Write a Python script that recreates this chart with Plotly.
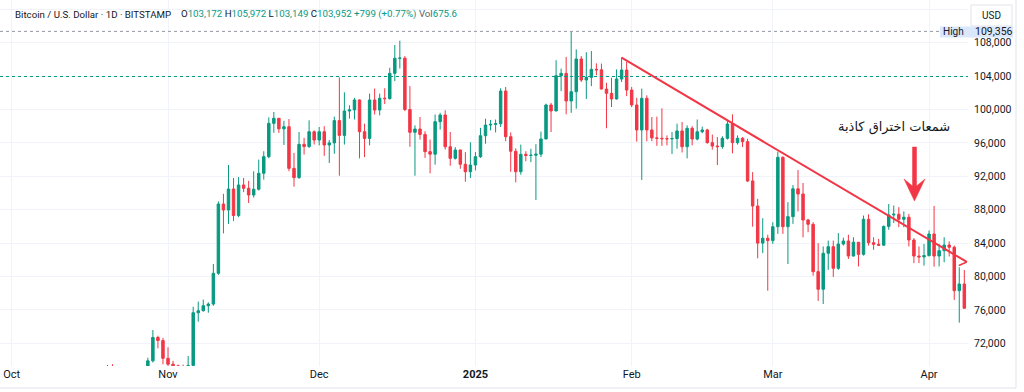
import plotly.graph_objects as go
import pandas as pd

# ---------------- data (BTC/USD daily, Bitstamp) ----------------
start_date = "2024-10-14"

opens = [
    # Oct 14-31
    62850, 66050, 67050, 67600, 67400, 68400, 68350, 69000, 67370, 67380, 66650, 68180, 66620, 67020, 67960, 69900, 72700, 72330,
    # Nov
    70200, 69500, 69300, 68750, 67800, 69350, 75660, 75900, 76500, 76700, 80380, 88680, 87960, 90480, 87300, 90960, 90560, 89760, 90450, 92360,
    94350, 98340, 98950, 97680, 97940, 92950, 91840, 95830, 95560, 97340,
    # Dec
    96340, 97340, 95750, 96000, 98670, 96900, 99820, 99950, 101140, 97340, 96540, 101140, 99940, 101340, 101300, 104330, 106130, 106150, 100000, 97270,
    97660, 97020, 94950, 94650, 98540, 99340, 95540, 94150, 95150, 93440, 92550,
    # Jan
    93350, 94350, 96860, 98140, 98220, 98300, 102210, 96740, 95000, 92550, 94630, 94500, 94520, 94650, 96470, 100540, 99820, 104050, 104330, 101020,
    102130, 106050, 103530, 103850, 104810, 104750, 102450, 101940, 101260, 103650, 104730,
    # Feb
    102330, 100540, 97550, 101340, 97550, 96600, 96550, 96500, 96480, 96520, 97430, 95540, 97750, 96460, 97340, 97550, 96030, 95630, 95550, 96550,
    98260, 96030, 96550, 96150, 91440, 88440, 84000, 84580,
    # Mar
    84300, 85960, 94270, 85960, 87170, 90500, 89880, 86770, 86250, 80580, 78470, 82780, 83570, 80980, 83890, 84250, 82450, 84100, 82650, 86850,
    84050, 83850, 83750, 86000, 87370, 87450, 86850, 87100, 84370, 82450, 82350,
    # Apr 1-8
    82500, 85090, 82450, 83090, 83770, 83500, 78300, 79100,
]

highs = [
    66500, 67900, 68400, 67950, 68950, 68700, 69400, 69500, 67800, 67450, 68850, 68750, 67450, 68300, 70270, 73590, 72900, 72650,
    71520, 69900, 69450, 69450, 70480, 76380, 76990, 77240, 76900, 81500, 89000, 89900, 93350, 91800, 91900, 91800, 91450, 92600, 94000, 95000,
    99060, 99700, 98950, 98650, 98860, 94800, 97300, 96600, 98700, 97500,
    97900, 98000, 96350, 99150, 103850, 102060, 100500, 101400, 101200, 98300, 101900, 102500, 101900, 102540, 105000, 107720, 108240, 106400, 102800, 98100,
    99100, 97400, 96400, 99400, 99600, 99900, 97300, 95500, 95200, 94900, 96070,
    94900, 97800, 98900, 98750, 98800, 102540, 102700, 97250, 95350, 95800, 95000, 95300, 95850, 97350, 100700, 100800, 105900, 104900, 106300, 109356,
    107200, 106400, 106860, 107000, 105530, 105500, 103200, 103800, 104800, 106250, 105700,
    102700, 101400, 102500, 101700, 99100, 99140, 100140, 96900, 97300, 98300, 98500, 98100, 98000, 98800, 97950, 97700, 97000, 96700, 96800, 98660,
    99420, 96900, 96700, 96500, 92500, 89300, 86980, 85000,
    86500, 94950, 94400, 88900, 90950, 92750, 91200, 86900, 86500, 84000, 83600, 84300, 84300, 85200, 84650, 85000, 84700, 84100, 87300, 87450,
    84700, 84500, 86100, 88680, 88500, 88300, 87800, 87500, 84600, 83600, 83900,
    85500, 88440, 83900, 84700, 84200, 83700, 81100, 80780,
]

lows = [
    62450, 64800, 66750, 66700, 67200, 68000, 68100, 66800, 66600, 65200, 66500, 65800, 66450, 66850, 67600, 69700, 71400, 69480,
    68800, 68800, 67500, 66800, 67450, 69300, 74590, 75800, 75660, 76500, 80200, 85170, 86300, 86650, 87100, 90100, 88800, 89450, 90300, 91600,
    94150, 97220, 97200, 95750, 92600, 90760, 91700, 94600, 95400, 95800,
    95700, 94450, 93600, 94700, 92070, 95800, 98900, 98800, 94150, 94300, 95700, 99400, 99300, 100650, 101200, 103400, 104900, 99800, 95540, 92070,
    96400, 94200, 92360, 93400, 97600, 95200, 93270, 94000, 92900, 91350, 91800,
    92700, 94200, 95900, 97500, 97250, 97900, 96200, 92550, 91280, 92200, 93800, 93700, 89160, 94300, 96450, 97300, 99800, 102200, 99420, 99600,
    100100, 103300, 101260, 102800, 104100, 102400, 97750, 100300, 101200, 103300, 101600,
    100300, 96150, 91560, 96200, 96200, 95650, 95650, 95700, 94670, 95300, 94850, 94150, 95700, 96300, 97150, 95900, 95200, 93350, 95300, 96400,
    94750, 95800, 95500, 91300, 85960, 82180, 82800, 78300,
    83900, 85100, 85100, 81500, 86300, 87800, 84690, 85300, 80100, 77070, 76710, 80800, 79950, 80800, 83700, 82100, 82400, 81200, 82500, 83700,
    83200, 83650, 83700, 85600, 86400, 85900, 85900, 83600, 81600, 81600, 81300,
    82400, 81180, 81200, 81700, 82400, 77200, 74470, 76150,
]

closes = [
    66050, 67050, 67600, 67400, 68400, 68350, 69000, 67370, 67380, 66650, 68180, 66620, 67020, 67960, 69900, 72700, 72330, 70200,
    69500, 69300, 68750, 67800, 69350, 75660, 75900, 76500, 76700, 80380, 88680, 87960, 90480, 87300, 90960, 90560, 89760, 90450, 92360, 94350,
    98340, 98950, 97680, 97940, 92950, 91840, 95830, 95560, 97340, 96340,
    97340, 95750, 96000, 98670, 96900, 99820, 99950, 101140, 97340, 96540, 101140, 99940, 101340, 101300, 104330, 106130, 106150, 100000, 97270, 97660,
    97020, 94950, 94650, 98540, 99340, 95540, 94150, 95150, 93440, 92550, 93350,
    94350, 96860, 98140, 98220, 98300, 102210, 96740, 95000, 92550, 94630, 94500, 94520, 94650, 96470, 100540, 99820, 104050, 104330, 101020, 102130,
    106050, 103530, 103850, 104810, 104750, 102450, 101940, 101260, 103650, 104730, 102330,
    100540, 97550, 101340, 97550, 96600, 96550, 96500, 96480, 96520, 97430, 95540, 97750, 96460, 97340, 97550, 96030, 95630, 95550, 96550, 98260,
    96030, 96550, 96150, 91440, 88440, 84000, 84580, 84300,
    85960, 94270, 85960, 87170, 90500, 89880, 86770, 86250, 80580, 78470, 82780, 83570, 80980, 83890, 84250, 82450, 84100, 82650, 86850, 84050,
    83850, 83750, 86000, 87370, 87450, 86850, 87100, 84370, 82450, 82350, 82500,
    85090, 82450, 83090, 83770, 83500, 78300, 79100, 76200,
]

# axis ticks
x_tick_dates = ["2024-10-01", "2024-11-01", "2024-12-01", "2025-01-01", "2025-02-01", "2025-03-01", "2025-04-01"]
x_tick_labels = ["Oct", "Nov", "Dec", "<b>2025</b>", "Feb", "Mar", "Apr"]
y_tick_values = [72000, 76000, 80000, 84000, 88000, 92000, 96000, 100000, 104000, 108000, 112000]
y_tick_labels = ["72,000", "76,000", "80,000", "84,000", "88,000", "92,000", "96,000", "100,000", "104,000", "108,000", ""]

# reference levels
all_time_high = 109356
last_close_line = 103952

# trendline (drawn by the analyst)
trend_dates = ["2025-01-30 00:00", "2025-04-08 12:00"]
trend_values = [106200, 81740]
trend_tail_dates = ["2025-04-08 12:00", "2025-04-06 22:00"]
trend_tail_values = [81740, 81320]

# header legend
symbol_title = "Bitcoin / U.S. Dollar · 1D · BITSTAMP"
header_values = dict(o="103,172", h="105,972", l="103,149", c="103,952", chg="+799 (+0.77%)", vol="675.6")
annotation_text = "شمعات اختراق كاذبة"

# ---------------- style ----------------
GREEN = "#089981"
RED = "#f23645"
TEXT = "#131722"
GRID = "#f0f3fa"
FONT = "Roboto, 'Liberation Sans', sans-serif"

W, H = 1024, 392
ML, MR, MT, MB = 0, 56, 0, 26
PW, PH = W - ML - MR, H - MT - MB


def px(X):
    return (X - ML) / PW


def py(Y):
    return 1 - (Y - MT) / PH


dates = pd.date_range(start_date, periods=len(closes), freq="D")
assert len(opens) == len(highs) == len(lows) == len(closes)

fig = go.Figure()
fig.add_trace(go.Candlestick(
    x=dates, open=opens, high=highs, low=lows, close=closes,
    increasing=dict(line=dict(color=GREEN, width=1), fillcolor=GREEN),
    decreasing=dict(line=dict(color=RED, width=1), fillcolor=RED),
    whiskerwidth=0, hoverinfo="skip", showlegend=False,
))

shapes = []
# dotted reference lines
shapes.append(dict(type="line", xref="paper", yref="y", x0=0, x1=px(940), y0=all_time_high, y1=all_time_high,
                   line=dict(color="#9598a1", width=1, dash="dot")))
shapes.append(dict(type="line", xref="paper", yref="y", x0=0, x1=1, y0=last_close_line, y1=last_close_line,
                   line=dict(color=GREEN, width=1, dash="dot")))
# trendline
shapes.append(dict(type="line", xref="x", yref="y", x0=trend_dates[0], x1=trend_dates[1],
                   y0=trend_values[0], y1=trend_values[1], line=dict(color=RED, width=2)))
shapes.append(dict(type="line", xref="x", yref="y", x0=trend_tail_dates[0], x1=trend_tail_dates[1],
                   y0=trend_tail_values[0], y1=trend_tail_values[1], line=dict(color=RED, width=1.5)))
# down arrow
arrow_pts = [(912.5, 147), (916.5, 147), (916.5, 186), (925, 179), (914.5, 201), (904, 179), (912.5, 186)]
path = "M " + " L ".join(f"{px(x):.5f},{py(y):.5f}" for x, y in arrow_pts) + " Z"
shapes.append(dict(type="path", xref="paper", yref="paper", path=path, fillcolor=RED, line=dict(color=RED, width=0.5)))
# frame lines of the widget
shapes.append(dict(type="line", xref="paper", yref="paper", x0=px(1016), x1=px(1016), y0=py(0), y1=py(388),
                   line=dict(color="#e0e3eb", width=1)))
shapes.append(dict(type="line", xref="paper", yref="paper", x0=px(0), x1=px(1016), y0=py(388), y1=py(388),
                   line=dict(color="#e0e3eb", width=1)))
# USD box
shapes.append(dict(type="rect", xref="paper", yref="paper", x0=px(971), x1=px(1012), y0=py(5), y1=py(26),
                   line=dict(color="#e0e3eb", width=1), fillcolor="white"))
# High tag and price tag
shapes.append(dict(type="rect", xref="paper", yref="paper", x0=px(940), x1=px(967), y0=py(26.5), y1=py(37.5),
                   line=dict(width=0), fillcolor="#dbe7fb"))
shapes.append(dict(type="rect", xref="paper", yref="paper", x0=px(967), x1=px(1013), y0=py(26.5), y1=py(37.5),
                   line=dict(width=0), fillcolor="#dbe7fb"))

annotations = []
hv = header_values
values_text = (
    f"<span style='color:{TEXT}'>O</span><span style='color:{GREEN}'>{hv['o']}</span>"
    f" <span style='color:{TEXT}'>H</span><span style='color:{GREEN}'>{hv['h']}</span>"
    f" <span style='color:{TEXT}'>L</span><span style='color:{GREEN}'>{hv['l']}</span>"
    f" <span style='color:{TEXT}'>C</span><span style='color:{GREEN}'>{hv['c']}</span>"
    f" <span style='color:{GREEN}'>{hv['chg']}</span>"
    f" <span style='color:#5d606b'>Vol</span><span style='color:{GREEN}'>{hv['vol']}</span>"
)
annotations.append(dict(xref="paper", yref="paper", x=px(13), y=py(14), xanchor="left", yanchor="middle",
                        text=symbol_title, showarrow=False, font=dict(size=9.7, color=TEXT, family=FONT)))
annotations.append(dict(xref="paper", yref="paper", x=px(179), y=py(14), xanchor="left", yanchor="middle",
                        text=values_text, showarrow=False, font=dict(size=9.7, family=FONT)))
annotations.append(dict(xref="paper", yref="paper", x=px(991.5), y=py(15.5), xanchor="center", yanchor="middle",
                        text="USD", showarrow=False, font=dict(size=10, color=TEXT, family=FONT)))
annotations.append(dict(xref="paper", yref="y", x=px(953.5), y=all_time_high, xanchor="center", yanchor="middle",
                        text="High", showarrow=False, font=dict(size=10, color=TEXT, family=FONT)))
annotations.append(dict(xref="paper", yref="y", x=px(973), y=all_time_high, xanchor="left", yanchor="middle",
                        text=f"{all_time_high:,}", showarrow=False, font=dict(size=10.5, color=TEXT, family=FONT)))
annotations.append(dict(xref="paper", yref="paper", x=px(894), y=py(127), xanchor="center", yanchor="middle",
                        text=annotation_text, showarrow=False,
                        font=dict(size=13, color=TEXT, family="'DejaVu Sans', sans-serif")))

fig.update_layout(
    width=W, height=H, autosize=False,
    margin=dict(l=ML, r=MR, t=MT, b=MB, pad=0),
    paper_bgcolor="white", plot_bgcolor="white",
    font=dict(family=FONT, size=11, color=TEXT),
    shapes=shapes, annotations=annotations,
    showlegend=False, hovermode=False,
    xaxis=dict(
        type="date", range=["2024-09-28 16:00", "2025-04-08 17:30"],
        rangeslider=dict(visible=False),
        tickmode="array", tickvals=x_tick_dates, ticktext=x_tick_labels,
        showgrid=True, gridcolor=GRID, gridwidth=1, zeroline=False, showline=False, ticks="",
        tickfont=dict(size=11, color=TEXT, family=FONT),
    ),
    yaxis=dict(
        side="right", range=[69281, 113114],
        tickmode="array", tickvals=y_tick_values, ticktext=y_tick_labels,
        showgrid=True, gridcolor=GRID, gridwidth=1, zeroline=False, showline=False, ticks="",
        ticklabelstandoff=5,
        tickfont=dict(size=10.5, color=TEXT, family=FONT),
    ),
)

fig.write_html("out.html", config={"displayModeBar": False},
               post_script="document.body.style.margin='0';")
